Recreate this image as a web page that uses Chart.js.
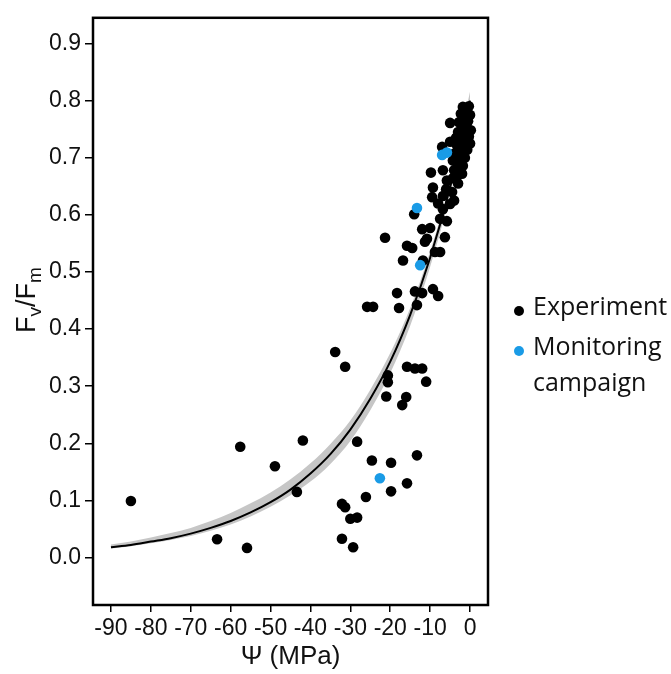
<!DOCTYPE html>
<html>
<head>
<meta charset="utf-8">
<script src="https://cdn.jsdelivr.net/npm/chart.js@4"></script>
<style>
  body { margin: 0; background: #fff; }
  #wrap { position: relative; width: 671px; height: 674px; }
  #legend {
    position: absolute; left: 511px; top: 287px;
    font-family: "Open Sans", sans-serif; font-size: 25px; color: #111;
  }
  .item { position: relative; padding-left: 22px; line-height: 36px; margin-bottom: 4px; white-space: nowrap; }
  .dot { position: absolute; left: 3px; top: 19px; width: 10px; height: 10px; border-radius: 50%; }
</style>
</head>
<body>
<div id="wrap">
  <canvas id="c" width="671" height="674"></canvas>
  <div id="legend">
    <div class="item"><span class="dot" style="background:#000"></span>Experiment</div>
    <div class="item"><span class="dot" style="background:#1a9be6"></span>Monitoring<br>campaign</div>
  </div>
</div>
<script>
// Fv/Fm vs leaf water potential

// experiment points (black)
const expPsi = [
  -85.0, -63.4, -57.6, -55.9, -48.9, -43.4, -41.9, -33.8, -31.3, -32.1,
  -31.3, -30.0, -28.3, -32.1, -29.3, -28.3, -24.6, -19.8, -13.3, -15.8,
  -19.8, -26.1, -21.0, -16.0, -17.0, -20.6, -20.6, -15.8, -13.8, -12.0,
  -11.0, -25.8, -24.3, -17.8, -13.3, -18.3, -13.8, -12.0, -9.3, -8.0,
  -16.8, -11.8, -15.8, -14.5, -21.3, -11.3, -10.8, -12.0, -10.0, -6.3,
  -8.8, -7.5, -14.0, -6.8, -5.0, -7.5, -5.8, -9.5, -6.8, -9.3,
  -5.8, -4.3, -9.8, -6.8, -2.5, -5.0, -7.0, -5.0, -4.5, -3.0,
  -6.0, -4.0, -8.0,
  -1.8, -0.3, -1.0, -2.3, 0.0, -1.5, -0.5, -2.8, -2.0, -0.8,
  0.2, -3.0, -1.8, -0.3, -2.5, -1.2, 0.0, -3.3, -2.0, -0.7,
  -3.8, -2.5, -1.3, -4.3, -3.0, -1.8, -4.0, -3.2, -2.0, -0.5,
  -1.0, -3.5
];
const expFvFm = [
  0.099, 0.032, 0.194, 0.017, 0.160, 0.115, 0.205, 0.360, 0.334, 0.094,
  0.088, 0.068, 0.070, 0.033, 0.018, 0.203, 0.170, 0.166, 0.179, 0.130,
  0.116, 0.106, 0.282, 0.281, 0.267, 0.319, 0.307, 0.334, 0.331, 0.331,
  0.308, 0.439, 0.439, 0.437, 0.442, 0.463, 0.466, 0.463, 0.470, 0.458,
  0.520, 0.520, 0.546, 0.542, 0.560, 0.553, 0.558, 0.575, 0.577, 0.561,
  0.535, 0.535, 0.601, 0.610, 0.619, 0.593, 0.589, 0.631, 0.633, 0.648,
  0.660, 0.664, 0.674, 0.678, 0.679, 0.761, 0.719, 0.728, 0.640, 0.655,
  0.645, 0.625, 0.620,
  0.789, 0.790, 0.781, 0.777, 0.775, 0.768, 0.764, 0.762, 0.755, 0.752,
  0.748, 0.745, 0.741, 0.737, 0.733, 0.729, 0.725, 0.722, 0.718, 0.714,
  0.708, 0.704, 0.700, 0.695, 0.690, 0.686, 0.678, 0.668, 0.672, 0.742,
  0.758, 0.735
];

// monitoring campaign points (blue)
const monPsi   = [-7.0, -5.8, -13.3, -12.5, -22.6];
const monFvFm  = [0.705, 0.709, 0.612, 0.512, 0.139];

// fitted curve and its grey band
const fitPsi   = [-90, -85, -80, -75, -70, -65, -60, -55, -50, -45, -40, -35, -30, -25, -20, -15, -10, -5, 0];
const fitFvFm  = [0.018, 0.022, 0.028, 0.034, 0.042, 0.052, 0.064, 0.079, 0.097, 0.119, 0.147, 0.181, 0.224, 0.278, 0.343, 0.425, 0.525, 0.648, 0.800];
const bandHigh = [0.023, 0.028, 0.035, 0.043, 0.052, 0.064, 0.078, 0.095, 0.114, 0.137, 0.165, 0.199, 0.240, 0.294, 0.358, 0.437, 0.536, 0.658, 0.816];
const bandLow  = [0.016, 0.020, 0.025, 0.031, 0.038, 0.047, 0.058, 0.072, 0.089, 0.109, 0.133, 0.164, 0.204, 0.258, 0.323, 0.406, 0.509, 0.635, 0.789];

const xTicks = [-90, -80, -70, -60, -50, -40, -30, -20, -10, 0];
const yTicks = [0, 0.1, 0.2, 0.3, 0.4, 0.5, 0.6, 0.7, 0.8, 0.9];

const pts = (xs, ys) => xs.map((x, i) => ({ x: x, y: ys[i] }));

const tickFont = { family: '"Liberation Sans", Arial, sans-serif', size: 23 };
const titleFont = { family: '"Liberation Sans", Arial, sans-serif', size: 26 };

// black box round the plot area
const frame = {
  id: 'frame',
  afterDatasetsDraw(chart) {
    const a = chart.chartArea, ctx = chart.ctx;
    ctx.save();
    ctx.strokeStyle = '#000';
    ctx.lineWidth = 2.5;
    ctx.strokeRect(a.left, a.top, a.right - a.left, a.bottom - a.top);
    ctx.restore();
  }
};

// y title "Fv/Fm" with subscripts
const yTitle = {
  id: 'yTitle',
  afterDraw(chart) {
    const ctx = chart.ctx;
    const parts = [['F', 0], ['v', 1], ['/F', 0], ['m', 1]];
    const big = '27px "Liberation Sans", Arial, sans-serif';
    const small = '19px "Liberation Sans", Arial, sans-serif';
    ctx.save();
    let w = 0;
    parts.forEach(p => { ctx.font = p[1] ? small : big; w += ctx.measureText(p[0]).width; });
    ctx.translate(35, 300);
    ctx.rotate(-Math.PI / 2);
    ctx.fillStyle = '#111';
    ctx.textBaseline = 'alphabetic';
    let x = -w / 2;
    parts.forEach(p => {
      ctx.font = p[1] ? small : big;
      ctx.fillText(p[0], x, p[1] ? 6 : 0);
      x += ctx.measureText(p[0]).width;
    });
    ctx.restore();
  }
};

new Chart(document.getElementById('c'), {
  type: 'scatter',
  data: {
    datasets: [
      {
        label: 'Experiment',
        data: pts(expPsi, expFvFm),
        backgroundColor: '#000', borderColor: '#000',
        pointRadius: 5.3, borderWidth: 0, order: 1
      },
      {
        label: 'Monitoring campaign',
        data: pts(monPsi, monFvFm),
        backgroundColor: '#1a9be6', borderColor: '#1a9be6',
        pointRadius: 5.3, borderWidth: 0, order: 0
      },
      {
        label: 'fit',
        data: pts(fitPsi, fitFvFm),
        showLine: true, borderColor: '#000', borderWidth: 2,
        pointRadius: 0, cubicInterpolationMode: 'monotone', order: 2
      },
      {
        label: 'band high',
        data: pts(fitPsi, bandHigh),
        showLine: true, borderWidth: 0, borderColor: 'rgba(0,0,0,0)',
        backgroundColor: '#c6c6c6', fill: '+1',
        pointRadius: 0, cubicInterpolationMode: 'monotone', order: 3
      },
      {
        label: 'band low',
        data: pts(fitPsi, bandLow),
        showLine: true, borderWidth: 0, borderColor: 'rgba(0,0,0,0)',
        pointRadius: 0, cubicInterpolationMode: 'monotone', order: 4
      }
    ]
  },
  options: {
    responsive: false,
    animation: false,
    devicePixelRatio: 1,
    layout: { padding: { top: 12, right: 183, left: 0, bottom: 0 } },
    plugins: { legend: { display: false }, tooltip: { enabled: false } },
    scales: {
      x: {
        min: -94.5, max: 4.5,
        afterBuildTicks: s => { s.ticks = xTicks.map(v => ({ value: v })); },
        afterFit: s => { s.height = 69; },
        grid: { drawOnChartArea: false, drawTicks: true, tickLength: 7, color: '#000', lineWidth: 1.5 },
        border: { display: false },
        ticks: { font: tickFont, color: '#111', padding: 3, maxRotation: 0, autoSkip: false, callback: v => String(v) },
        title: { display: true, text: 'Ψ (MPa)', font: titleFont, color: '#111', padding: { top: 0, bottom: 2 } }
      },
      y: {
        min: -0.083, max: 0.945,
        afterBuildTicks: s => { s.ticks = yTicks.map(v => ({ value: v })); },
        afterFit: s => { s.width = 93; },
        grid: { drawOnChartArea: false, drawTicks: true, tickLength: 8, color: '#000', lineWidth: 1.5 },
        border: { display: false },
        ticks: { font: tickFont, color: '#111', padding: 4, autoSkip: false, callback: v => v.toFixed(1) }
      }
    }
  },
  plugins: [frame, yTitle]
});
</script>
</body>
</html>
